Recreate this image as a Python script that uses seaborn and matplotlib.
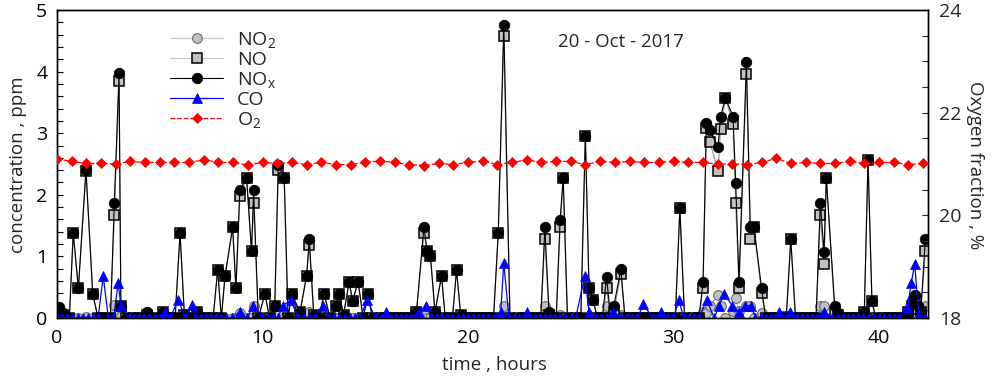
import numpy as np
import pandas as pd
import matplotlib
matplotlib.use("Agg")
import matplotlib.pyplot as plt
from matplotlib.lines import Line2D
from matplotlib.ticker import MultipleLocator
import seaborn as sns

# NOx analyser readings: time (h), NO2 / NO / NOx (ppm)
nox_t = [0.10, 0.30, 0.60, 0.79, 1.04, 1.41, 1.74, 2.00, 2.60, 2.79, 3.02, 3.11, 3.35,
         4.36, 5.14, 5.75, 5.99, 6.20, 6.80, 7.60, 7.82, 8.00, 8.18, 8.55, 8.71, 8.90,
         9.23, 9.47, 9.57, 9.80, 10.12, 10.35, 10.60, 10.77, 11.06, 11.25, 11.42, 11.83,
         12.15, 12.28, 12.50, 12.75, 13.00, 13.30, 13.60, 13.74, 13.95, 14.22, 14.39,
         14.66, 14.90, 15.15, 15.35, 17.50, 17.86, 18.02, 18.18, 18.40, 18.72, 18.90,
         19.25, 19.45, 19.65, 21.25, 21.48, 21.75, 22.05, 23.55, 23.75, 23.95, 24.30,
         24.49, 24.64, 24.85, 25.50, 25.72, 25.90, 26.10, 26.30, 26.55, 26.75, 26.95,
         27.10, 27.45, 27.65, 30.10, 30.32, 30.55, 31.25, 31.45, 31.61, 31.78, 32.18,
         32.30, 32.54, 32.91, 33.04, 33.20, 33.56, 33.75, 33.93, 34.30, 34.50, 35.50,
         35.72, 35.95, 36.95, 37.16, 37.34, 37.45, 37.86, 38.00, 39.30, 39.48, 39.67,
         39.85, 41.30, 41.45, 41.62, 41.75, 41.90, 42.05, 42.27]
no2_ppm = [0.05, 0.02, 0, 0, 0, 0.02, 0, 0, 0, 0.21, 0.10, 0.03, 0,
           0.02, 0, 0, 0, 0, 0, 0, 0, 0, 0, 0, 0, 0.08,
           0, 0, 0.20, 0, 0, 0, 0, 0.08, 0, 0, 0, 0,
           0, 0.10, 0, 0, 0, 0, 0, 0, 0, 0, 0,
           0, 0, 0, 0, 0, 0.09, 0, 0, 0, 0, 0,
           0, 0, 0, 0, 0, 0.20, 0, 0, 0.20, 0, 0,
           0.05, 0, 0, 0, 0, 0, 0, 0, 0, 0.20, 0,
           0.05, 0.05, 0, 0, 0, 0, 0, 0.10, 0.08, 0.19, 0.38,
           0.20, 0, 0.12, 0.32, 0.11, 0.20, 0.19, 0, 0.08, 0, 0,
           0, 0, 0, 0.20, 0.19, 0, 0.05, 0, 0, 0, 0,
           0, 0, 0.05, 0.05, 0.07, 0.05, 0.02, 0.20]
no_ppm = [0.10, 0.05, 0, 1.38, 0.48, 2.39, 0.39, 0, 0, 1.67, 3.85, 0.19, 0,
          0.05, 0.10, 0, 1.38, 0.05, 0.10, 0, 0.78, 0, 0.68, 1.47, 0.48, 1.98,
          2.27, 1.08, 1.87, 0, 0.39, 0, 0.19, 2.40, 2.27, 0, 0.39, 0.10,
          0.68, 1.18, 0.05, 0, 0.39, 0, 0.19, 0.39, 0.05, 0.59, 0.28,
          0.59, 0, 0.39, 0, 0.10, 1.38, 1.09, 1.00, 0.10, 0.68, 0,
          0, 0.78, 0.05, 0, 1.38, 4.57, 0, 0, 1.28, 0.05, 0,
          1.47, 2.27, 0, 0, 2.96, 0.48, 0.29, 0, 0, 0.48, 0,
          0.10, 0.72, 0, 0, 1.78, 0, 0, 0.48, 3.08, 2.86, 2.39,
          3.07, 3.57, 3.15, 1.87, 0.48, 3.96, 1.28, 1.47, 0.40, 0, 0,
          1.28, 0, 0, 1.67, 0.88, 2.27, 0.10, 0.05, 0.10, 2.57, 0.28,
          0, 0, 0.10, 0.20, 0.30, 0.15, 0.10, 1.08]
nox_ppm = [0.18, 0.08, 0, 1.38, 0.48, 2.40, 0.39, 0, 0, 1.87, 3.97, 0.19, 0,
           0.09, 0.10, 0, 1.38, 0.05, 0.10, 0, 0.78, 0, 0.68, 1.47, 0.48, 2.08,
           2.27, 1.08, 2.07, 0, 0.39, 0, 0.19, 2.48, 2.27, 0, 0.39, 0.10,
           0.68, 1.28, 0.05, 0, 0.39, 0, 0.19, 0.39, 0.05, 0.59, 0.28,
           0.59, 0, 0.39, 0, 0.10, 1.47, 1.09, 1.00, 0.10, 0.68, 0,
           0, 0.78, 0.05, 0, 1.38, 4.76, 0, 0, 1.47, 0.10, 0,
           1.59, 2.27, 0, 0, 2.96, 0.48, 0.29, 0, 0, 0.67, 0,
           0.19, 0.79, 0, 0, 1.78, 0, 0, 0.59, 3.16, 3.05, 2.77,
           3.27, 3.57, 3.27, 2.19, 0.59, 4.16, 1.47, 1.47, 0.48, 0, 0,
           1.28, 0, 0, 1.87, 1.07, 2.27, 0.19, 0.08, 0.10, 2.57, 0.28,
           0, 0, 0.12, 0.28, 0.37, 0.20, 0.10, 1.28]

# CO readings above zero: time (h), ppm
co_t = [2.25, 2.98, 3.11, 5.26, 5.90, 6.55, 8.90, 9.55, 10.98, 11.37, 12.93, 15.10,
        16.00, 17.60, 17.96, 21.60, 21.75, 22.90, 25.69, 25.90, 27.08, 28.55, 29.40,
        30.28, 31.62, 32.23, 32.47, 32.88, 33.20, 33.48, 33.80, 35.15, 35.68, 37.32,
        41.40, 41.59, 41.75, 41.95]
co_ppm = [0.68, 0.57, 0.20, 0.10, 0.29, 0.21, 0.10, 0.20, 0.20, 0.29, 0.20, 0.29,
          0.10, 0.10, 0.20, 0.10, 0.89, 0.10, 0.68, 0.10, 0.10, 0.22, 0.10,
          0.29, 0.29, 0.20, 0.39, 0.20, 0.10, 0.20, 0.20, 0.10, 0.10, 0.10,
          0.18, 0.57, 0.88, 0.05]

# Oxygen fraction (%), logged every ~43 min
o2_step_h = 0.7146
o2_pct = [21.10, 21.05, 21.01, 21.01, 21.00, 21.05, 21.03, 21.03, 21.03, 21.03,
          21.08, 21.03, 21.03, 20.98, 21.03, 21.01, 21.03, 20.99, 21.03, 20.99,
          20.99, 21.03, 21.06, 21.03, 20.99, 20.97, 21.01, 20.99, 21.03, 21.06,
          20.99, 21.03, 21.08, 21.03, 21.05, 21.05, 20.99, 21.05, 21.03, 21.05,
          21.03, 21.03, 21.05, 21.03, 21.03, 21.00, 21.00, 20.99, 21.03, 21.11,
          21.01, 21.03, 21.01, 21.01, 21.05, 21.01, 21.03, 21.03, 20.99, 21.01]

# analyser logging clock; readings between the listed ones sit at zero
clock_h = np.arange(0, 42.4, 0.25)


def with_baseline(t_ev, cols):
    t_ev = np.asarray(t_ev, float)
    idle = np.array([c for c in clock_h if np.min(np.abs(t_ev - c)) > 0.2])
    t = np.concatenate([t_ev, idle])
    order = np.argsort(t)
    out = {"t": t[order]}
    for name, vals in cols.items():
        out[name] = np.concatenate([np.asarray(vals, float), np.zeros(len(idle))])[order]
    return pd.DataFrame(out)


nox_df = with_baseline(nox_t, {"NO2": no2_ppm, "NO": no_ppm, "NOx": nox_ppm})
co_df = with_baseline(co_t, {"CO": co_ppm})
o2_df = pd.DataFrame({"t": np.arange(len(o2_pct)) * o2_step_h, "O2": o2_pct})

sns.set_style("white")
plt.rcParams["font.family"] = ["Open Sans", "DejaVu Sans"]
plt.rcParams["mathtext.fontset"] = "custom"
plt.rcParams["mathtext.rm"] = "Open Sans"
plt.rcParams["mathtext.it"] = "Open Sans:italic"
plt.rcParams["mathtext.bf"] = "Open Sans:bold"

fig = plt.figure(figsize=(9.94, 3.8), dpi=100)
ax = fig.add_axes([57 / 994, 62 / 380, 871 / 994, 308 / 380])
ax2 = ax.twinx()

styles = {
    "NO2": dict(color="#c4c4c4", marker="o", markersize=7, markerfacecolor="#c0c0c0",
                markeredgecolor="#6a6a6a", markeredgewidth=0.8, linewidth=0.9, zorder=2),
    "NO": dict(color="#9a9a9a", marker="s", markersize=7, markerfacecolor="#c0c0c0",
               markeredgecolor="black", markeredgewidth=1.1, linewidth=0.9, zorder=3),
    "NOx": dict(color="black", marker="o", markersize=7.6, markerfacecolor="black",
                markeredgecolor="black", markeredgewidth=0.5, linewidth=0.8, zorder=4),
    "CO": dict(color="#0000ff", marker="^", markersize=7, markerfacecolor="#0000ff",
               markeredgecolor="#0000ff", markeredgewidth=0.5, linewidth=0.9, zorder=5),
    "O2": dict(color="#ff0000", marker="D", markersize=5.5, markerfacecolor="#ff0000",
               markeredgecolor="#ff0000", markeredgewidth=0.5, linewidth=0.9,
               linestyle="--", zorder=6),
}

for name in ["NO2", "NO", "NOx"]:
    sns.lineplot(data=nox_df, x="t", y=name, ax=ax, estimator=None, sort=True,
                 legend=False, **styles[name])
sns.lineplot(data=co_df, x="t", y="CO", ax=ax, estimator=None, sort=True,
             legend=False, **styles["CO"])
sns.lineplot(data=o2_df, x="t", y="O2", ax=ax2, estimator=None, sort=True,
             legend=False, **styles["O2"])

ax.set_xlim(0, 42.4)
ax.set_ylim(0, 5)
ax2.set_ylim(18, 24)

ax.xaxis.set_major_locator(MultipleLocator(10))
ax.yaxis.set_major_locator(MultipleLocator(1))
ax.yaxis.set_minor_locator(MultipleLocator(0.2))
ax2.yaxis.set_major_locator(MultipleLocator(2))
ax2.yaxis.set_minor_locator(MultipleLocator(0.5))

ax.tick_params(axis="both", which="both", direction="in", labelsize=14, length=4.5,
               width=0.8, pad=7, colors="black")
ax.tick_params(axis="x", pad=8)
ax.tick_params(axis="y", which="both", right=False)
ax2.tick_params(axis="y", which="both", direction="in", labelsize=14, length=4.5,
                width=0.8, pad=8)
ax.set_xlabel("")
ax.set_ylabel("")
ax2.set_ylabel("")
for a in (ax, ax2):
    for sp in a.spines.values():
        sp.set_linewidth(1.0)
        sp.set_color("black")

fig.text(18.5 / 994, 1 - 165 / 380, "concentration , ppm", rotation=90,
         ha="center", va="center", fontsize=13.5)
fig.text(975 / 994, 1 - 165 / 380, "Oxygen fraction , %", rotation=-90,
         ha="center", va="center", fontsize=13.5)
fig.text(494 / 994, 1 - 365 / 380, "time , hours", ha="center", va="center",
         fontsize=13.5)
ax.text(0.6475, 0.896, "20 - Oct - 2017", transform=ax.transAxes, ha="center",
        va="center", fontsize=13.5)

labels = [r"NO$_\mathrm{2}$", "NO", r"NO$_\mathrm{x}$", "CO", r"O$_\mathrm{2}$"]
handles = []
for name in ["NO2", "NO", "NOx", "CO", "O2"]:
    st = {k: v for k, v in styles[name].items() if k != "zorder"}
    if name in ("NO2", "NO"):
        st["color"] = "#c8c8c8"
    handles.append(Line2D([], [], **st))
leg = ax2.legend(handles, labels, loc="upper left", bbox_to_anchor=(0.1297, 0.935),
                 frameon=False, fontsize=14, handlelength=2.75, handletextpad=0.7,
                 labelspacing=0.05, borderpad=0, borderaxespad=0, numpoints=1)

fig.savefig("out.png", dpi=100)
